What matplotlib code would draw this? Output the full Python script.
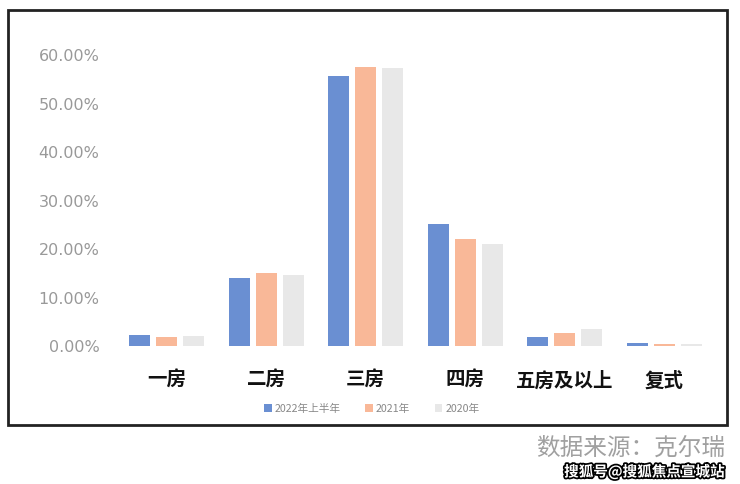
import matplotlib.pyplot as plt
import matplotlib.patheffects as pe
from matplotlib.patches import Rectangle
import numpy as np

plt.rcParams['font.family'] = ['Noto Sans CJK SC', 'DejaVu Sans']

categories = ['一房', '二房', '三房', '四房', '五房及以上', '复式']
series_names = ['2022年上半年', '2021年', '2020年']
v2022h1 = [2.3, 14.0, 55.7, 25.2, 1.9, 0.6]
v2021 = [1.9, 15.0, 57.5, 22.1, 2.7, 0.5]
v2020 = [2.0, 14.6, 57.3, 21.0, 3.5, 0.4]
colors = ['#6a8fd2', '#f9b898', '#e8e8e8']

fig = plt.figure(figsize=(7.4, 4.84), dpi=100)
ax = fig.add_axes([0.158, 0.285, 0.807, 0.601])

x = np.arange(len(categories))
w = 0.21
off = 0.27
for i, (vals, name) in enumerate(zip([v2022h1, v2021, v2020], series_names)):
    ax.bar(x + (i - 1) * off, vals, width=w, color=colors[i], label=name)

ax.set_xlim(-0.5, len(categories) - 0.5)
ax.set_ylim(0, 60)
ax.set_yticks(np.arange(0, 61, 10))
ax.set_yticklabels(['%.2f%%' % t for t in np.arange(0, 61, 10)],
                   fontsize=11.5, color='#999999', family='DejaVu Sans')
ax.set_xticks(x)
ax.set_xticklabels(categories, fontsize=14, fontweight='bold', color='#111111')
ax.tick_params(axis='y', length=0, pad=12.5)
ax.tick_params(axis='x', length=0, pad=18)
for s in ax.spines.values():
    s.set_visible(False)

ax.legend(loc='upper center', bbox_to_anchor=(0.427, -0.165), ncol=3, frameon=False,
          fontsize=7.7, labelcolor='#888888', handlelength=0.7, handleheight=0.7,
          handletextpad=0.3, columnspacing=2.3)

# outer frame
fig.patches.append(Rectangle((8 / 740, 1 - 425 / 484), 719 / 740, 415 / 484,
                             transform=fig.transFigure, fill=False,
                             edgecolor='#222222', linewidth=2))

fig.text(725 / 740, 1 - 448 / 484, '数据来源：克尔瑞', ha='right', va='center',
         fontsize=17, color='#a0a0a0')
fig.text(725 / 740, 1 - 472 / 484, '搜狐号@搜狐焦点宣城站', ha='right', va='center',
         fontsize=10.5, color='white', fontweight='bold',
         path_effects=[pe.withStroke(linewidth=2.5, foreground='black')])

fig.savefig('out.png', dpi=100)
plt.close(fig)
